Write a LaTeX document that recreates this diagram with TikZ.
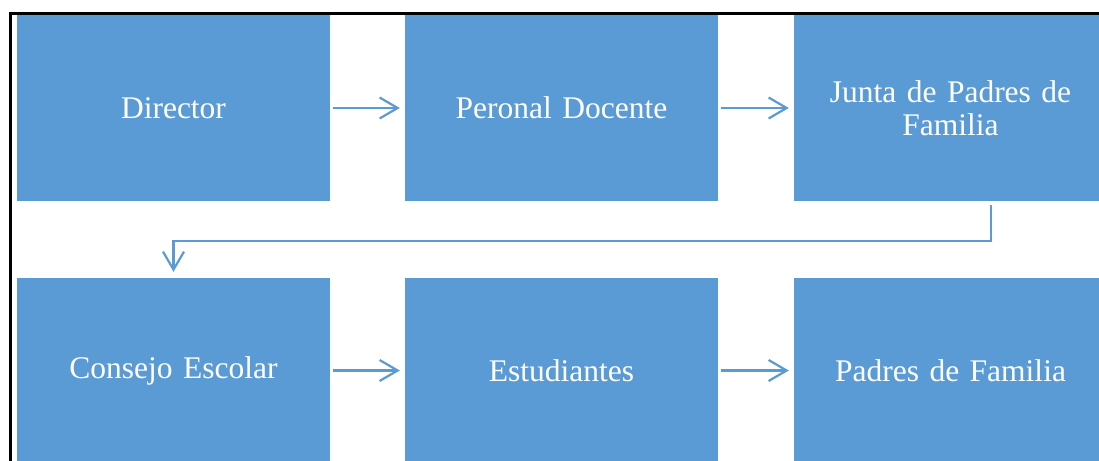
\documentclass[tikz,border=0pt]{standalone}
\usepackage{fontspec}
\setmainfont{Liberation Serif}
\usetikzlibrary{arrows.meta,positioning}
\definecolor{boxblue}{HTML}{5B9BD5}
\tikzset{
  orgbox/.style={fill=boxblue, draw=none, minimum width=313pt, minimum height=186pt,
    inner sep=0pt, text=white, align=center, text width=290pt,
    font=\fontsize{31.5}{33}\selectfont},
  link/.style={draw=boxblue, line width=2.2pt, -{Straight Barb[length=18pt,width=21pt,line width=2.2pt]}},
}
\begin{document}
\begin{tikzpicture}[x=1pt,y=-1pt]
\useasboundingbox (0,0) rectangle (1099,460);
\clip (0,0) rectangle (1099,460);
\fill[white] (0,0) rectangle (1099,460);
\draw[black, line width=2.5pt] (10.5,470) -- (10.5,13.5) -- (1110,13.5);
\node[orgbox] (dir) at (173.5,108) {Director};
\node[orgbox] (doc) at (561.5,108) {Peronal Docente};
\node[orgbox] (junta) at (950.5,108) {Junta de Padres de\\Familia};
\node[orgbox] (cons) at (173.5,370.5) {Consejo Escolar};
\node[orgbox] (est) at (561.5,370.5) {Estudiantes};
\node[orgbox] (pad) at (950.5,370.5) {Padres de Familia};
\draw[link, shorten <=2.5pt, shorten >=5pt] (dir.east) -- (doc.west);
\draw[link, shorten <=2.5pt, shorten >=5pt] (doc.east) -- (junta.west);
\draw[link, shorten <=2.5pt, shorten >=5pt] (cons.east) -- (est.west);
\draw[link, shorten <=2.5pt, shorten >=5pt] (est.east) -- (pad.west);
\coordinate (jstart) at ([xshift=40.5pt]junta.south);
\draw[link, shorten <=4pt, shorten >=5.5pt] (jstart) -- ++(0,40) -| (cons.north);
\end{tikzpicture}
\end{document}
